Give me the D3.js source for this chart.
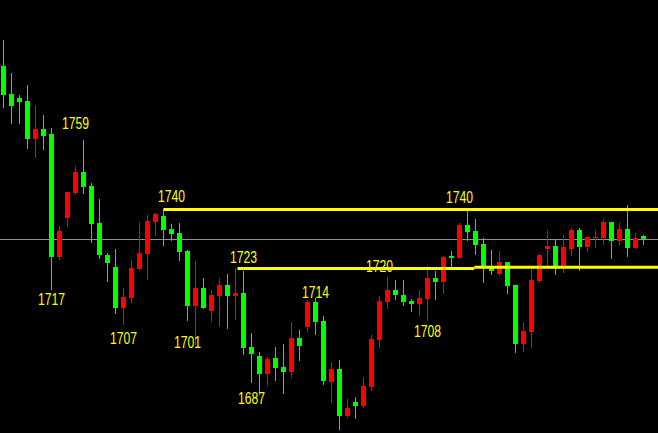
<!DOCTYPE html>
<html>
<head>
<meta charset="utf-8">
<script src="https://cdn.jsdelivr.net/npm/d3@7"></script>
<style>
  html, body { margin: 0; padding: 0; background: #000; overflow: hidden; }
  svg { display: block; }
</style>
</head>
<body>
<svg id="chart" width="658" height="433"></svg>
<script>
// ---- data ----
const opens  = [1781.3,1773.2,1772.1,1771.2,1760.3,1763.2,1761.7,1726.3,1737.6,1744.7,
                1750.8,1746.8,1736.1,1726.9,1723.5,1711.7,1714.5,1722.9,1727.2,1736.4,
                1738.1,1734.4,1733.2,1728.1,1712.2,1717.4,1710.8,1715.1,1718.3,1715.1,
                1716.0,1700.4,1697.8,1692.7,1697.3,1694.7,1693.2,1703.0,1706.2,1713.4,
                1707.9,1690.4,1694.1,1680.6,1684.6,1683.5,1688.9,1702.4,1713.4,1716.8,
                1715.4,1713.7,1712.8,1714.2,1720.3,1719.1,1726.6,1726.0,1735.5,1733.8,
                1730.1,1723.5,1721.4,1724.9,1718.3,1701.3,1704.7,1719.4,1728.6,1729.5,
                1723.7,1728.6,1734.1,1729.2,1731.8,1731.8,1736.4,1730.9,1734.4,1728.9,
                1732.4];
const highs  = [1788.8,1779.3,1772.9,1775.8,1770.1,1767.2,1763.5,1735.2,1745.0,1752.5,
                1760.0,1747.6,1743.0,1727.5,1728.6,1717.4,1725.5,1736.4,1738.4,1739.0,
                1740.1,1735.8,1736.1,1728.3,1725.2,1720.3,1716.8,1720.3,1721.4,1723.2,
                1722.3,1704.5,1699.0,1697.6,1700.4,1701.3,1707.6,1705.3,1714.0,1714.5,
                1709.3,1696.1,1696.7,1685.5,1686.0,1691.8,1703.9,1715.1,1720.6,1719.7,
                1719.7,1714.2,1716.8,1723.7,1722.3,1726.6,1728.1,1736.1,1739.9,1737.3,
                1731.8,1728.3,1728.1,1724.9,1718.3,1707.6,1722.9,1727.2,1734.1,1731.2,
                1732.7,1734.7,1734.7,1732.1,1734.1,1737.3,1736.4,1736.1,1741.3,1733.2,
                1732.7];
const lows   = [1769.5,1764.9,1764.9,1757.7,1755.1,1757.4,1717.1,1725.8,1735.2,1744.5,
                1744.7,1730.6,1726.0,1719.4,1710.2,1707.0,1713.4,1722.9,1720.0,1732.7,
                1729.8,1731.2,1725.5,1708.2,1701.3,1711.7,1707.9,1706.5,1705.9,1708.5,
                1698.4,1690.4,1686.9,1689.5,1690.9,1687.2,1691.8,1696.7,1705.0,1704.2,
                1689.8,1684.6,1676.8,1680.3,1680.0,1683.2,1688.1,1700.4,1711.7,1714.2,
                1712.5,1710.8,1709.6,1708.2,1714.2,1716.0,1723.5,1726.0,1731.2,1727.2,
                1719.1,1721.4,1721.1,1716.0,1699.0,1699.3,1700.4,1719.1,1724.0,1721.4,
                1722.0,1726.9,1722.6,1728.1,1729.2,1730.1,1726.0,1730.1,1726.6,1728.9,
                1730.1];
const closes = [1772.9,1769.8,1770.9,1760.3,1763.2,1761.1,1726.3,1733.8,1745.0,1750.8,
                1746.5,1735.8,1726.9,1724.6,1711.7,1714.8,1723.2,1727.5,1736.7,1738.7,
                1734.1,1733.0,1727.8,1712.2,1717.4,1711.7,1715.4,1718.3,1715.1,1716.0,
                1700.1,1698.4,1692.7,1697.0,1694.4,1693.2,1703.0,1700.7,1713.4,1707.6,
                1690.6,1694.1,1680.6,1682.9,1683.5,1689.2,1702.7,1713.7,1716.8,1715.4,
                1713.4,1712.8,1714.5,1720.3,1719.1,1726.3,1726.0,1735.5,1733.5,1729.8,
                1723.5,1722.3,1724.9,1718.0,1701.3,1705.0,1719.7,1726.9,1729.5,1723.7,
                1729.2,1734.1,1729.2,1732.1,1732.1,1736.4,1730.9,1734.4,1728.9,1731.8,
                1731.5];

// horizontal levels: [start bar, end bar, price]
const levelStarts = [20, 29.25, 58.85];
const levelEnds   = [82, 58.85, 82];
const levelPrices = [1740, 1723.0, 1723.4];
const lastPrice = 1731.5;

// price labels: text, bar the label is centred on, price of its baseline
const labelTexts  = ["1759","1740","1717","1707","1701","1723","1687","1714","1720","1708","1740"];
const labelBars   = [9, 21, 6, 15, 23, 30, 31, 39, 47, 53, 57];
const labelPrices = [1763.2,1742.1,1712.6,1701.4,1700.1,1724.7,1684.0,1714.5,1721.9,1703.4,1741.9];

// ---- drawing ----
const W = 658, H = 433;
const svg = d3.select("#chart");
svg.append("rect").attr("width", W).attr("height", H).attr("fill", "#000");

const x = d3.scaleLinear().domain([0, 80]).range([3.5, 643.5]);
const y = d3.scaleLinear().domain([1675.68, 1800.29]).range([H, 0]);

const bars = opens.map((o, i) => ({ i, o, h: highs[i], l: lows[i], c: closes[i] }));
const upColor = "#ff0000", downColor = "#00ff00";

// last price line
svg.append("line")
  .attr("x1", 0).attr("x2", W)
  .attr("y1", Math.round(y(lastPrice)) + 0.5).attr("y2", Math.round(y(lastPrice)) + 0.5)
  .attr("stroke", "#8c9099").attr("stroke-width", 1);

const g = svg.append("g");
const candle = g.selectAll("g.c").data(bars).join("g").attr("class", "c");
candle.append("line")
  .attr("x1", d => x(d.i)).attr("x2", d => x(d.i))
  .attr("y1", d => Math.round(y(d.h))).attr("y2", d => Math.round(y(d.l)) + 1)
  .attr("stroke", d => d.c > d.o ? upColor : downColor)
  .attr("stroke-width", 1);
candle.append("rect")
  .attr("x", d => x(d.i) - 2.5)
  .attr("width", 5)
  .attr("y", d => Math.round(y(Math.max(d.o, d.c))))
  .attr("height", d => Math.max(1, Math.round(y(Math.min(d.o, d.c))) - Math.round(y(Math.max(d.o, d.c)))))
  .attr("fill", d => d.c > d.o ? upColor : downColor);

// level lines
const levels = levelPrices.map((p, k) => ({ p, s: levelStarts[k], e: levelEnds[k] }));
svg.selectAll("line.lvl").data(levels).join("line").attr("class", "lvl")
  .attr("x1", d => x(d.s)).attr("x2", d => Math.min(W, x(d.e)))
  .attr("y1", d => y(d.p)).attr("y2", d => y(d.p))
  .attr("stroke", "#ffff00").attr("stroke-width", 3);

// labels
svg.selectAll("text.lbl").data(labelTexts).join("text").attr("class", "lbl")
  .attr("x", (t, k) => x(labelBars[k]))
  .attr("y", (t, k) => y(labelPrices[k]))
  .attr("text-anchor", "middle")
  .attr("fill", "#ffff00")
  .attr("font-family", "'Liberation Sans', Arial, sans-serif")
  .attr("font-size", 16)
  .attr("textLength", 27)
  .attr("lengthAdjust", "spacingAndGlyphs")
  .text(t => t);
</script>
</body>
</html>
